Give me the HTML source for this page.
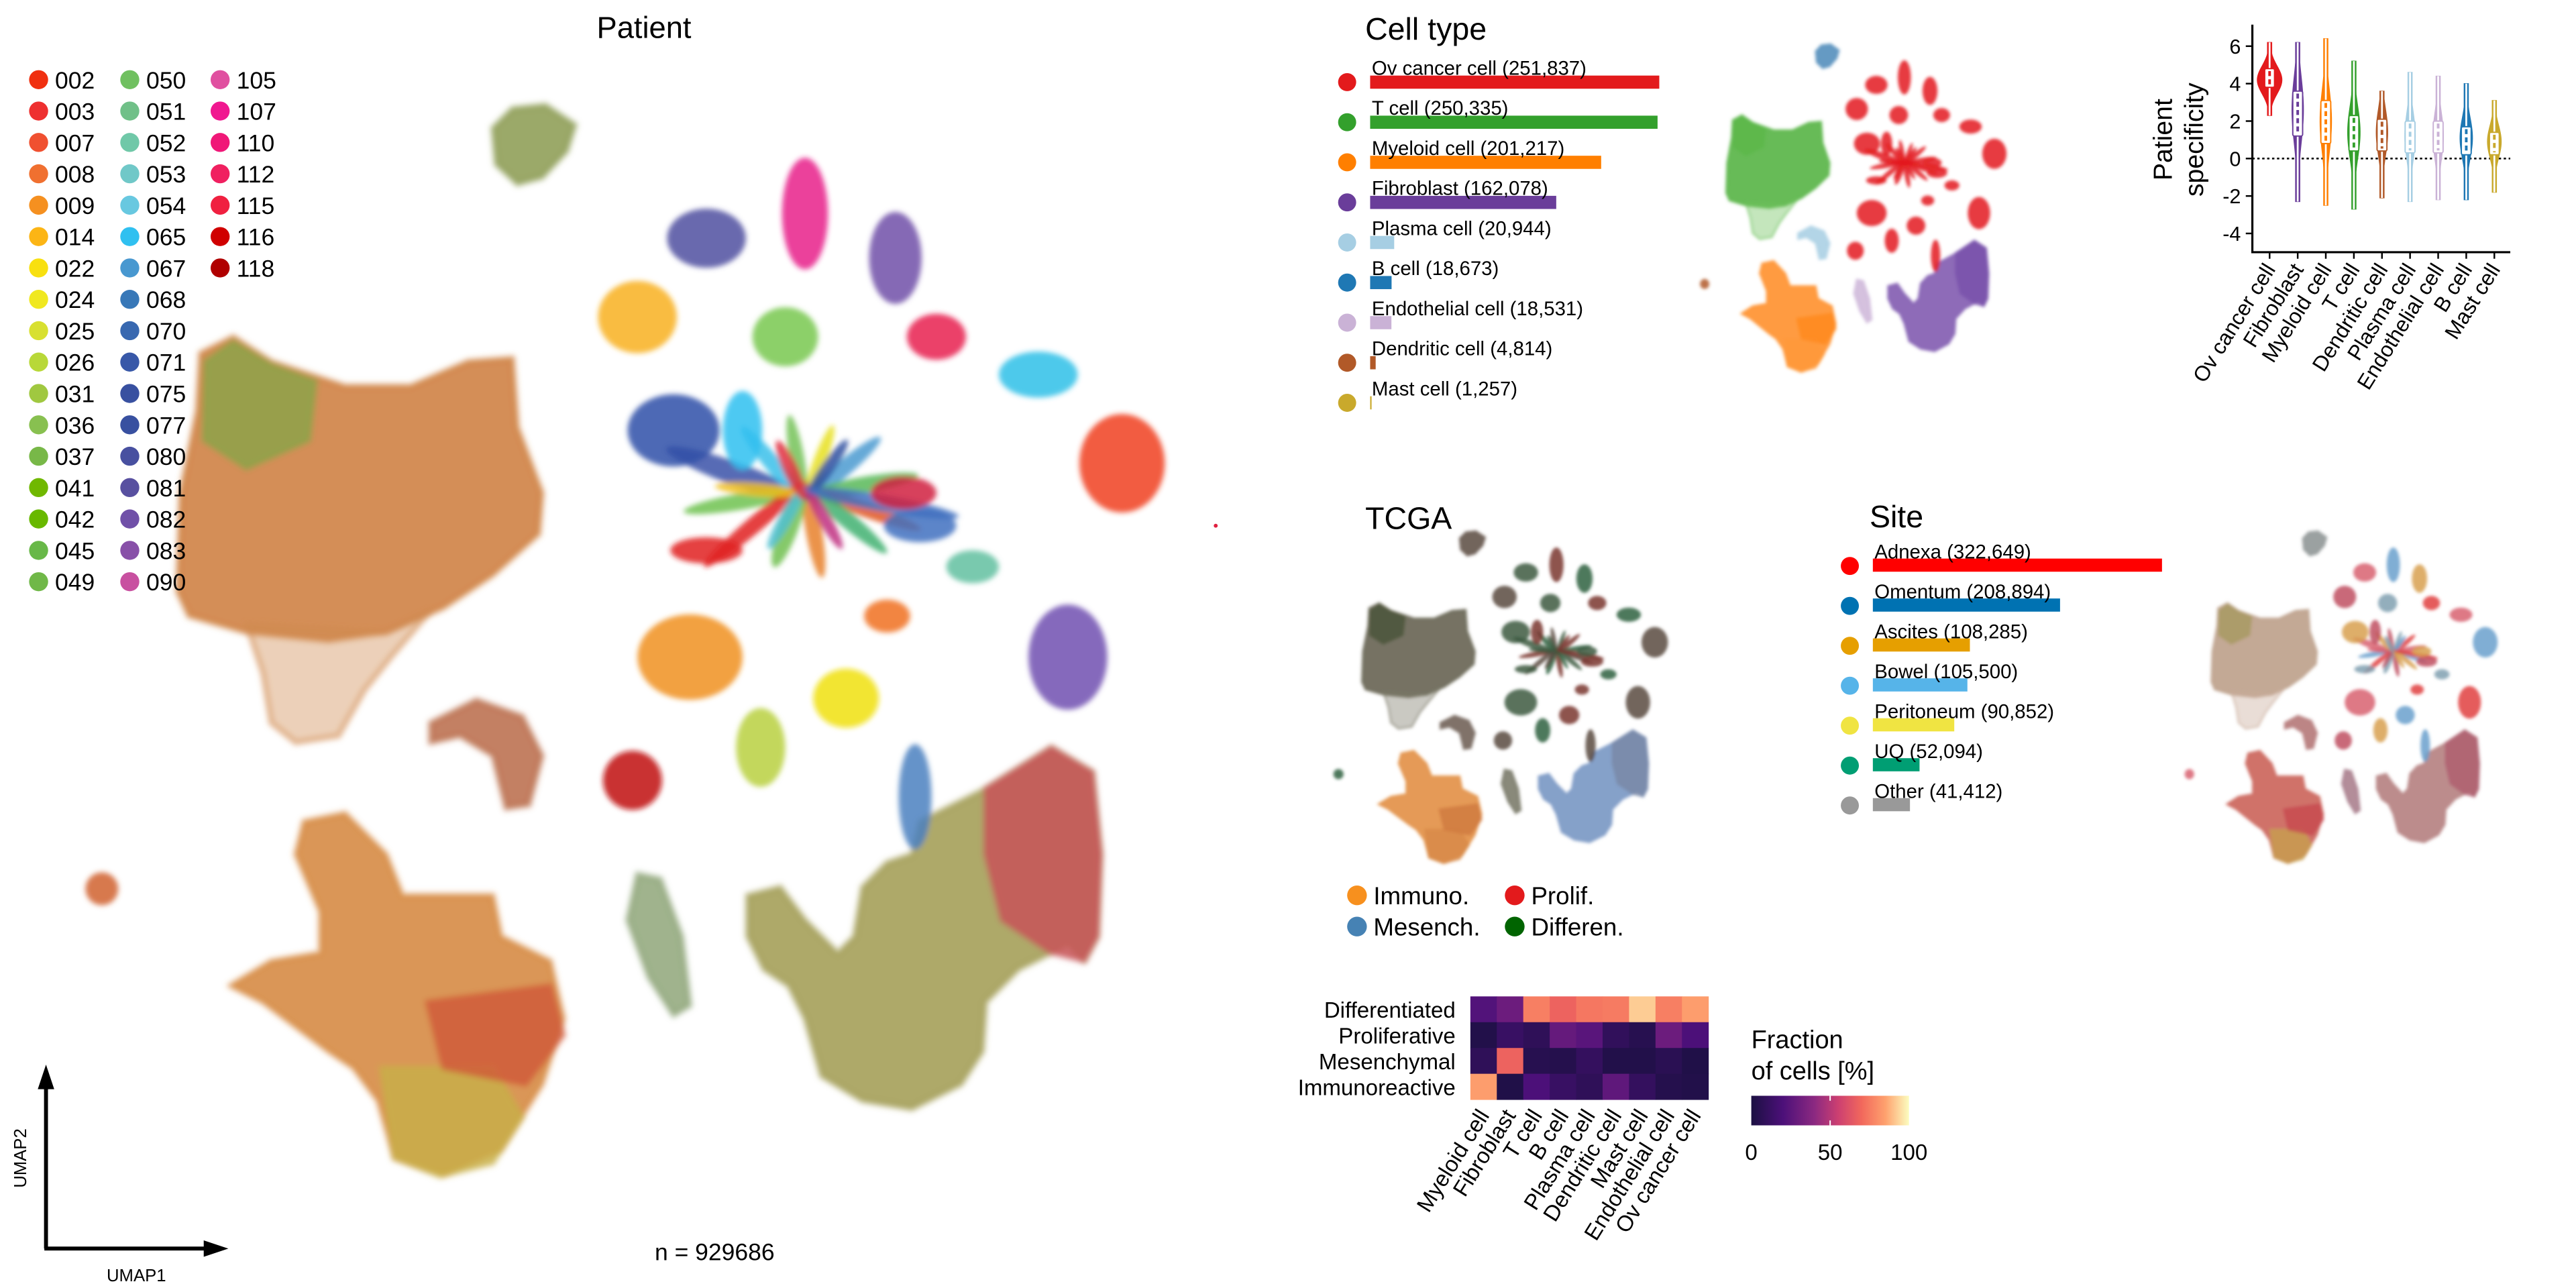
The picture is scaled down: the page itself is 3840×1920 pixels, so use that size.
<!DOCTYPE html>
<html><head><meta charset="utf-8"><title>Ovarian cancer atlas UMAP figure</title>
<style>
html,body{margin:0;padding:0;background:#fff;}
svg{display:block;}
text{font-family:"Liberation Sans",sans-serif;fill:#000;}
</style></head>
<body>
<svg id="fig" xmlns="http://www.w3.org/2000/svg" width="3840" height="1920" viewBox="0 0 1568 784" preserveAspectRatio="none">
<defs>
<filter id="soft" x="-20%" y="-20%" width="140%" height="140%"><feGaussianBlur stdDeviation="1.0"/></filter>
<filter id="soft2" x="-20%" y="-20%" width="140%" height="140%"><feGaussianBlur stdDeviation="1.6"/></filter>
<linearGradient id="magma" x1="0" x2="1" y1="0" y2="0">
<stop offset="0" stop-color="#1b1042"/><stop offset="0.2" stop-color="#4c1079"/><stop offset="0.4" stop-color="#8b2981"/><stop offset="0.55" stop-color="#cc3f71"/><stop offset="0.7" stop-color="#f2685c"/><stop offset="0.85" stop-color="#fea16e"/><stop offset="1" stop-color="#fcfdbf"/>
</linearGradient>
</defs>
<g id="umaps"></g>
<g id="overlay">
<text x="392" y="23" font-size="18.5" text-anchor="middle">Patient</text>
<text x="831" y="24" font-size="19">Cell type</text>
<text x="831" y="322" font-size="19">TCGA</text>
<text x="1138" y="321" font-size="19">Site</text>
<text x="435" y="767" font-size="14.5" text-anchor="middle">n = 929686</text>
<g>
<line x1="28" y1="760" x2="28" y2="662" stroke="#000" stroke-width="2.4"/>
<polygon points="28,648 23,663 33,663" fill="#000"/>
<line x1="27" y1="760" x2="125" y2="760" stroke="#000" stroke-width="2.4"/>
<polygon points="139,760 124,755 124,765" fill="#000"/>
<text x="0" y="0" font-size="10.5" text-anchor="middle" transform="translate(16,705) rotate(-90)">UMAP2</text>
<text x="83" y="780" font-size="10.5" text-anchor="middle">UMAP1</text>
</g>
<g>
<circle cx="826" cy="545" r="6" fill="#f7901e"/>
<text x="836" y="550.5" font-size="15">Immuno.</text>
<circle cx="922" cy="545" r="6" fill="#e31a1c"/>
<text x="932" y="550.5" font-size="15">Prolif.</text>
<circle cx="826" cy="564" r="6" fill="#4682b4"/>
<text x="836" y="569.5" font-size="15">Mesench.</text>
<circle cx="922" cy="564" r="6" fill="#006400"/>
<text x="932" y="569.5" font-size="15">Differen.</text>
</g>
<g>
<text x="1066" y="638" font-size="15.5">Fraction</text>
<text x="1066" y="657" font-size="15.5">of cells [%]</text>
<rect x="1066" y="667" width="96" height="18" fill="url(#magma)"/>
<line x1="1114" y1="667" x2="1114" y2="670" stroke="#fff" stroke-width="0.8"/>
<line x1="1114" y1="682" x2="1114" y2="685" stroke="#fff" stroke-width="0.8"/>
<text x="1066" y="706" font-size="13.5" text-anchor="middle">0</text>
<text x="1114" y="706" font-size="13.5" text-anchor="middle">50</text>
<text x="1162" y="706" font-size="13.5" text-anchor="middle">100</text>
</g>
</g>
<g id="charts"></g>
</svg>
<script>
// ---------- data ----------
const patientIds = ['002','003','007','008','009','014','022','024','025','026','031','036','037','041','042','045','049','050','051','052','053','054','065','067','068','070','071','075','077','080','081','082','083','090','105','107','110','112','115','116','118'];
const patientColors = ['#f03010','#ee3030','#f05030','#f07030','#f59020','#fcb515','#f8e010','#f0e820','#d8e030','#b8d838','#a0c840','#88c050','#78b848','#70b800','#68b800','#68b848','#70b848','#70c060','#70c088','#70c8a8','#70c8c8','#68c8e0','#30c0f0','#4898d0','#3878b8','#3868b0','#3858a8','#3850a0','#3850a0','#4850a0','#5850a0','#7050a8','#8850a8','#c850a0','#e050a0','#f01890','#f01878','#f02060','#f02040','#d00000','#b00000'];
const cellTypes = ['Ov cancer cell','T cell','Myeloid cell','Fibroblast','Plasma cell','B cell','Endothelial cell','Dendritic cell','Mast cell'];
const cellCounts = [251837,250335,201217,162078,20944,18673,18531,4814,1257];
const cellColors = ['#e31a1c','#33a02c','#ff7f00','#6a3d9a','#a6cee3','#1f78b4','#cab2d6','#b15928','#c9a92c'];
const sites = ['Adnexa','Omentum','Ascites','Bowel','Peritoneum','UQ','Other'];
const siteCounts = [322649,208894,108285,105500,90852,52094,41412];
const siteColors = ['#ff0000','#0072b2','#e69f00','#56b4e9','#f0e442','#009e73','#999999'];
const violinCats = ['Ov cancer cell','Fibroblast','Myeloid cell','T cell','Dendritic cell','Plasma cell','Endothelial cell','B cell','Mast cell'];
const violinColors = ['#e31a1c','#6a3d9a','#ff7f00','#33a02c','#b15928','#a6cee3','#cab2d6','#1f78b4','#c9a92c'];
const violinMin = [2.3,-2.3,-2.5,-2.7,-2.1,-2.3,-2.2,-2.2,-1.8];
const violinMax = [6.2,6.2,6.4,5.2,3.6,4.6,4.4,4.0,3.1];
const violinQ1 = [3.8,1.2,0.8,0.4,0.4,0.3,0.3,0.2,0.2];
const violinMed = [4.2,2.6,2.0,1.4,1.4,1.2,1.2,1.1,0.9];
const violinQ3 = [4.8,3.6,3.1,2.3,2.1,2.0,2.0,1.7,1.4];
const violinWidth = [7.5,3.5,3.5,3.8,3.5,3.2,3.2,3.8,4.2];
const yTicks = [-4,-2,0,2,4,6];
const heatRows = ['Differentiated','Proliferative','Mesenchymal','Immunoreactive'];
const heatCols = ['Myeloid cell','Fibroblast','T cell','B cell','Plasma cell','Dendritic cell','Mast cell','Endothelial cell','Ov cancer cell'];
const heatDifferentiated = [22,30,76,68,74,75,92,76,84];
const heatProliferative = [3,12,8,28,24,9,5,30,20];
const heatMesenchymal = [8,68,5,4,10,3,3,6,2];
const heatImmunoreactive = [84,2,20,12,8,26,10,4,3];

const NS='http://www.w3.org/2000/svg';
function mk(tag, attrs, parent){const e=document.createElementNS(NS,tag);for(const k in attrs)e.setAttribute(k,attrs[k]);parent.appendChild(e);return e;}
const charts=document.getElementById('charts');
const umaps=document.getElementById('umaps');

// ---------- UMAP shapes (patient-panel display coordinates) ----------
// colors: [patient, celltype, tcga, site]
const polys=[
 {n:'left-cluster',o:0.85,p:[[122,215],[142,205],[165,220],[210,235],[250,235],[285,220],[312,218],[315,260],[330,300],[328,325],[300,350],[270,370],[235,385],[200,390],[150,385],[115,375],[108,360],[110,300],[120,250]],c:['#cc7a38','#4caf3a','#5d5a48','#b89a82']},
 {n:'left-cluster-tail',o:0.4,p:[[150,380],[235,385],[262,372],[238,400],[222,420],[206,448],[180,452],[165,440],[160,410]],c:['#d08a50','#6cc05a','#7a7866','#c8aa98']},
 {n:'left-cluster-top',o:0.8,p:[[125,220],[142,208],[165,222],[192,232],[188,268],[150,285],[124,268]],c:['#8aa448','#5cb84a','#4a5238','#a89a60']},
 {n:'top-small-cluster',o:0.85,p:[[300,78],[312,66],[332,64],[350,76],[345,92],[330,108],[315,112],[302,100]],c:['#8a9a50','#4a88b8','#5a4a40','#8a9090']},
 {n:'bottom-left-cluster',o:0.85,p:[[185,500],[210,495],[235,520],[245,545],[300,545],[305,570],[335,585],[343,620],[330,660],[305,700],[270,715],[240,705],[230,670],[215,650],[200,640],[160,610],[140,600],[165,585],[195,580],[195,555],[180,520]],c:['#d4843a','#ff8a1e','#e08838','#c85a50']},
 {n:'bottom-left-lobe',o:0.8,p:[[232,650],[300,650],[318,680],[300,708],[268,716],[240,705]],c:['#c8b048','#ff9a3a','#d88a48','#c8a050']},
 {n:'bottom-left-red',o:0.8,p:[[260,610],[335,600],[343,630],[320,660],[270,650]],c:['#d05a3a','#ff8a1e','#d07a40','#c84a50']},
 {n:'bottom-right-cluster',o:0.85,p:[[455,545],[475,540],[490,560],[510,580],[520,570],[525,540],[540,525],[555,520],[560,500],[600,480],[640,455],[665,470],[670,520],[668,570],[660,585],[650,575],[620,590],[600,610],[598,640],[585,660],[555,675],[525,670],[500,655],[490,620],[480,600],[465,590],[455,570]],c:['#a09a50','#7a52ac','#7090c0','#b07878']},
 {n:'bottom-right-lobe',o:0.85,p:[[600,480],[640,455],[665,470],[670,520],[668,570],[660,585],[640,580],[610,560],[600,520]],c:['#c85458','#7a52ac','#7a8aa8','#b06070']},
 {n:'crescent-cluster',o:0.85,p:[[262,440],[290,426],[318,436],[330,460],[322,490],[308,492],[300,460],[280,448],[262,452]],c:['#b86a48','#a6cee3','#6a5a50','#b07070']},
 {n:'elongated-cluster',o:0.8,p:[[388,532],[402,535],[415,570],[420,612],[410,618],[395,595],[382,560]],c:['#88a070','#cab2d6','#6a6a58','#a07080']}
];
const ells=[
 [430,145,24,18,'#5050a0'],[490,130,14,34,'#e8208a'],[545,157,16,28,'#7050a8'],[388,193,24,22,'#f8b020'],[478,205,20,18,'#78c850'],
 [570,205,18,14,'#e82050'],[632,228,24,14,'#30c0e8'],[683,282,26,30,'#f04020'],[410,262,28,22,'#3050a8'],[452,262,12,24,'#30c0f0'],
 [592,345,16,10,'#60c0a0'],[650,400,24,32,'#7050b0'],[420,400,32,26,'#f09020'],[515,425,20,18,'#f0e010'],[463,455,15,24,'#b8d040'],
 [385,475,18,18,'#c01010'],[430,335,22,8,'#e02020'],[540,375,14,10,'#f07020'],[62,541,10,10,'#d06030'],[557,485,10,32,'#4a80c0'],
 [550,300,20,10,'#d02040'],[560,320,22,10,'#4070c0']
];
const center=[490,300];
const arms=[[200,90,14,'#3a52a8'],[170,75,10,'#6fc24f'],[230,60,10,'#38c0ea'],[260,55,9,'#74c257'],[290,50,8,'#e8e020'],[320,60,10,'#4a9ad0'],[350,70,10,'#58b858'],[20,75,9,'#e0561e'],[40,65,10,'#40b070'],[80,60,10,'#e8802a'],[110,55,12,'#70c050'],[140,80,10,'#e02020'],[185,55,8,'#f0c020'],[305,45,8,'#3050a0'],[60,45,8,'#c03080'],[120,45,8,'#50c0d0'],[245,40,9,'#e03040'],[10,95,10,'#4070c0']];
const panels=[
 {n:'patient',ox:0,oy:0,sx:1,sy:1},
 {n:'celltype',ox:1020,oy:7.3,sx:0.284,sy:0.306},
 {n:'tcga',ox:795.5,oy:303.5,sx:0.31,sy:0.31},
 {n:'site',ox:1314.7,oy:303.5,sx:0.29,sy:0.31}
];
const tcgaCyc=['#3c5a40','#7a3530','#2e6040','#5a4a40'];
const siteCyc=['#d86070','#6aa0cc','#d8a050','#c05060','#80a0b0','#e04040'];
panels.forEach((P,pi)=>{
  const g=mk('g',{filter:pi===0?'url(#soft2)':'url(#soft)'},umaps);
  
  
  const tx=x=>P.ox+x*P.sx, ty=y=>P.oy+y*P.sy;
  polys.forEach(b=>{
    const e=mk('polygon',{points:b.p.map(q=>tx(q[0])+','+ty(q[1])).join(' '),fill:b.c[pi],'fill-opacity':b.o,stroke:b.c[pi],'stroke-width':pi===0?4:1.5,'stroke-linejoin':'round','stroke-opacity':0.45},g);
    
    
  });
  arms.forEach((a,i)=>{
    const rad=a[0]*Math.PI/180, cx=center[0]+Math.cos(rad)*a[1]/2, cy=center[1]+Math.sin(rad)*a[1]/2*0.75;
    let col=a[3]; if(pi===1)col='#e31a1c'; if(pi===2)col=tcgaCyc[i%4]; if(pi===3)col=siteCyc[i%6];
    const e=mk('ellipse',{cx:0,cy:0,rx:a[1]/2*P.sx,ry:Math.max(1,a[2]/2*P.sy),fill:col,'fill-opacity':0.85,transform:'translate('+tx(cx)+','+ty(cy)+') rotate('+a[0]+')'},g);
    
    
  });
  ells.forEach((c,i)=>{
    let col=c[4]; if(pi===1)col=(i===18?'#b15928':'#e31a1c'); if(pi===2)col=tcgaCyc[i%4]; if(pi===3)col=siteCyc[i%6];
    const e=mk('ellipse',{cx:tx(c[0]),cy:ty(c[1]),rx:c[2]*P.sx,ry:c[3]*P.sy,fill:col,'fill-opacity':0.85},g);
    
    
  });
});
(function(){const e=mk('circle',{cx:740,cy:320,r:1.2,fill:'#e02040'},umaps);

})();

// ---------- Patient legend ----------
patientIds.forEach((id,i)=>{
  const col=Math.floor(i/17), row=i%17;
  const dx=[23.5,79,134][col], y=48.5+row*19.1;
  const d=mk('circle',{cx:dx,cy:y,r:5.8,fill:patientColors[i]},charts);
  
  
  const t=mk('text',{x:dx+10,y:y+5.3,'font-size':14.5},charts);
  t.textContent=id;
  
  
});

// ---------- Cell type bars ----------
const ctX0=834, ctScale=v=>v*176/251837;
cellTypes.forEach((nm,i)=>{
  const y=50+i*24.4;
  const d=mk('circle',{cx:820,cy:y,r:5.5,fill:cellColors[i]},charts);
  
  
  const b=mk('rect',{x:ctX0,y:y-4,width:Math.max(0.8,ctScale(cellCounts[i])),height:8,fill:cellColors[i]},charts);
  
  
  const t=mk('text',{x:ctX0+1,y:y-4.5,'font-size':12},charts);
  t.textContent=nm+' ('+cellCounts[i].toLocaleString('en-US')+')';
  
  
});

// ---------- Site bars ----------
const stX0=1140, stScale=v=>v*176/322649;
sites.forEach((nm,i)=>{
  const y=344+i*24.3;
  const d=mk('circle',{cx:1126,cy:y+0.5,r:5.5,fill:siteColors[i]},charts);
  
  
  const b=mk('rect',{x:stX0,y:y-4,width:stScale(siteCounts[i]),height:8,fill:siteColors[i]},charts);
  
  
  const t=mk('text',{x:stX0+1,y:y-4,'font-size':12},charts);
  t.textContent=nm+' ('+siteCounts[i].toLocaleString('en-US')+')';
  
  
});

// ---------- Violin plot ----------
const vy=v=>96.5-v*11.4, vx=i=>1381.5+i*17.1;
(function(){
  const ax=mk('path',{d:'M1371,15 L1371,153.5 L1528,153.5',fill:'none',stroke:'#000','stroke-width':1.3},charts);
  
  
  const z=mk('line',{x1:1371,x2:1528,y1:vy(0),y2:vy(0),stroke:'#000','stroke-width':1.1,'stroke-dasharray':'1.4,1.6'},charts);
  
  
  yTicks.forEach(v=>{
    const l=mk('line',{x1:1367,x2:1371,y1:vy(v),y2:vy(v),stroke:'#000','stroke-width':1},charts);
    
    
    const t=mk('text',{x:1364,y:vy(v)+4.5,'font-size':12.5,'text-anchor':'end'},charts);
    t.textContent=v;
    
    
  });
  const t1=mk('text',{x:0,y:0,'font-size':16,'text-anchor':'middle',transform:'translate(1322,85) rotate(-90)'},charts);
  t1.textContent='Patient';
  
  
  const t2=mk('text',{x:0,y:0,'font-size':16,'text-anchor':'middle',transform:'translate(1341,85) rotate(-90)'},charts);
  t2.textContent='specificity';
  
  
})();
violinCats.forEach((nm,i)=>{
  const x=vx(i), c=violinColors[i];
  const sd=(violinQ3[i]-violinQ1[i])/1.35, w=violinWidth[i];
  const pts=[], N=40;
  for(let k=0;k<=N;k++){const v=violinMin[i]+(violinMax[i]-violinMin[i])*k/N;const h=Math.max(1.3,w*Math.exp(-0.5*Math.pow((v-violinMed[i])/sd,2)));pts.push([v,h]);}
  const d='M'+pts.map(p=>(x+p[1])+','+vy(p[0])).join(' L')+' L'+pts.slice().reverse().map(p=>(x-p[1])+','+vy(p[0])).join(' L')+'Z';
  const vp=mk('path',{d:d,fill:c,stroke:c,'stroke-width':0.5},charts);
  
  
  const wl=mk('line',{x1:x,x2:x,y1:vy(violinMin[i]),y2:vy(violinMax[i]),stroke:'#fff','stroke-width':1.1},charts);
  
  
  const bx=mk('rect',{x:x-3,y:vy(violinQ3[i]),width:6,height:vy(violinQ1[i])-vy(violinQ3[i]),fill:'#fff',stroke:c,'stroke-width':0.8,rx:1},charts);
  
  
  const ml=mk('line',{x1:x,x2:x,y1:vy(violinQ3[i])+1.5,y2:vy(violinQ1[i])-1.5,stroke:c,'stroke-width':1.6,'stroke-dasharray':'3,2'},charts);
  
  
  const tk=mk('line',{x1:x,x2:x,y1:153.5,y2:157.5,stroke:'#000','stroke-width':1},charts);
  
  
  const t=mk('text',{x:x+4,y:164,'font-size':13,'text-anchor':'end',transform:'rotate(-58,'+(x+4)+',164)'},charts);
  t.textContent=nm;
  
  
});

// ---------- Heatmap ----------
const magmaStops=[[0,[27,16,66]],[0.2,[76,16,121]],[0.4,[139,41,129]],[0.55,[204,63,113]],[0.7,[242,104,92]],[0.85,[254,161,110]],[1,[252,253,191]]];
function magma(v){const t=Math.max(0,Math.min(1,v/100));for(let k=1;k<magmaStops.length;k++){if(t<=magmaStops[k][0]){const a=magmaStops[k-1],b=magmaStops[k],f=(t-a[0])/(b[0]-a[0]);return 'rgb('+a[1].map((q,j)=>Math.round(q+(b[1][j]-q)*f)).join(',')+')';}}return 'rgb(252,253,191)';}
const heatVals=[heatDifferentiated,heatProliferative,heatMesenchymal,heatImmunoreactive];
const hx=j=>895+j*16.1, hy=i=>606.5+i*15.7;
heatRows.forEach((r,i)=>{
  const t=mk('text',{x:886,y:hy(i)+13,'font-size':13.5,'text-anchor':'end'},charts);
  t.textContent=r;
  
  
  heatCols.forEach((cn,j)=>{
    const e=mk('rect',{x:hx(j),y:hy(i),width:16.3,height:15.9,fill:magma(heatVals[i][j])},charts);
    
    
  });
});
heatCols.forEach((cn,j)=>{
  const x=hx(j)+12, y=679;
  const t=mk('text',{x:x,y:y,'font-size':13.5,'text-anchor':'end',transform:'rotate(-58,'+x+','+y+')'},charts);
  t.textContent=cn;
  
  
});
</script>
</body></html>
